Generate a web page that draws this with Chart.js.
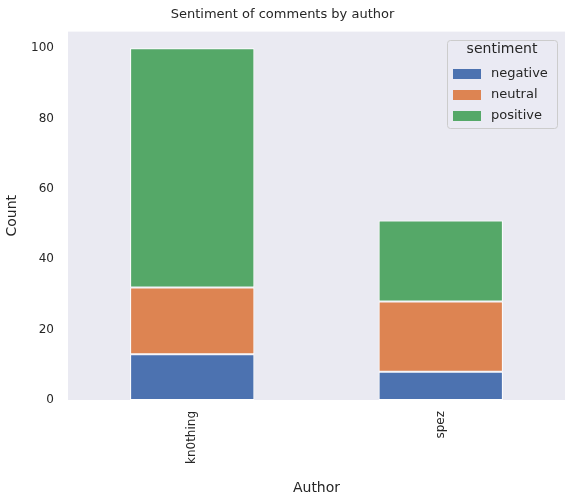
<!DOCTYPE html><html><head><script src="https://cdn.jsdelivr.net/npm/chart.js@4"></script>
<style>body{margin:0;background:#fff}#w{width:575px;height:501px}</style></head><body><div id="w"><canvas id="c"></canvas></div>
<script>
const authors=["kn0thing","spez"];
const negative=[13,8];
const neutral=[19,20];
const positive=[68,23];
const yTicks=[0,20,40,60,80,100];
const F="DejaVu Sans";
const bg={id:'bg',beforeDraw(c){const a=c.chartArea,x=c.ctx;x.save();x.fillStyle='#EAEAF2';x.fillRect(a.left,a.top,a.right-a.left,a.bottom-a.top);x.restore();}};
const leg={id:'leg',afterDraw(c){const x=c.ctx;x.save();
x.fillStyle='rgba(234,234,242,0.8)';x.strokeStyle='#ccc';x.lineWidth=1;
x.beginPath();x.roundRect(447.5,40.5,110,88,3);x.fill();x.stroke();
x.fillStyle='#262626';x.font='14px '+F;x.textAlign='center';x.textBaseline='middle';x.fillText('sentiment',502,49);
x.font='13px '+F;x.textAlign='left';
c.data.datasets.forEach((d,i)=>{const y=74+i*21;x.fillStyle=d.backgroundColor;x.fillRect(453,y-5,28,10);x.fillStyle='#262626';x.fillText(d.label,491,y);});
x.restore();}};
new Chart(document.getElementById('c'),{type:'bar',
data:{labels:authors,datasets:[
{label:'negative',data:negative,backgroundColor:'#4C72B0'},
{label:'neutral',data:neutral,backgroundColor:'#DD8452'},
{label:'positive',data:positive,backgroundColor:'#55A868'}].map(d=>Object.assign(d,{borderColor:'#fff',borderWidth:1,borderSkipped:false,categoryPercentage:1,barPercentage:0.5}))},
options:{responsive:true,maintainAspectRatio:false,animation:false,
layout:{padding:{right:10,left:0}},
plugins:{legend:{display:false},tooltip:{enabled:false},
title:{display:true,text:'Sentiment of comments by author',color:'#262626',font:{family:F,size:13,weight:'normal'},padding:{top:7,bottom:9}}},
scales:{
x:{stacked:true,grid:{display:false},border:{display:false},
ticks:{color:'#262626',font:{family:F,size:12},maxRotation:90,minRotation:90},
title:{display:true,text:'Author',color:'#262626',font:{family:F,size:14},padding:{top:4}},
afterFit(s){s.height=101;}},
y:{stacked:true,min:0,max:104.7,grid:{display:false},border:{display:false},
afterBuildTicks(s){s.ticks=yTicks.map(v=>({value:v}));},
ticks:{color:'#262626',font:{family:F,size:12},padding:6},
title:{display:true,text:'Count',color:'#262626',font:{family:F,size:14}},
afterFit(s){s.width=68;}}}},
plugins:[bg,leg]});
</script></body></html>
